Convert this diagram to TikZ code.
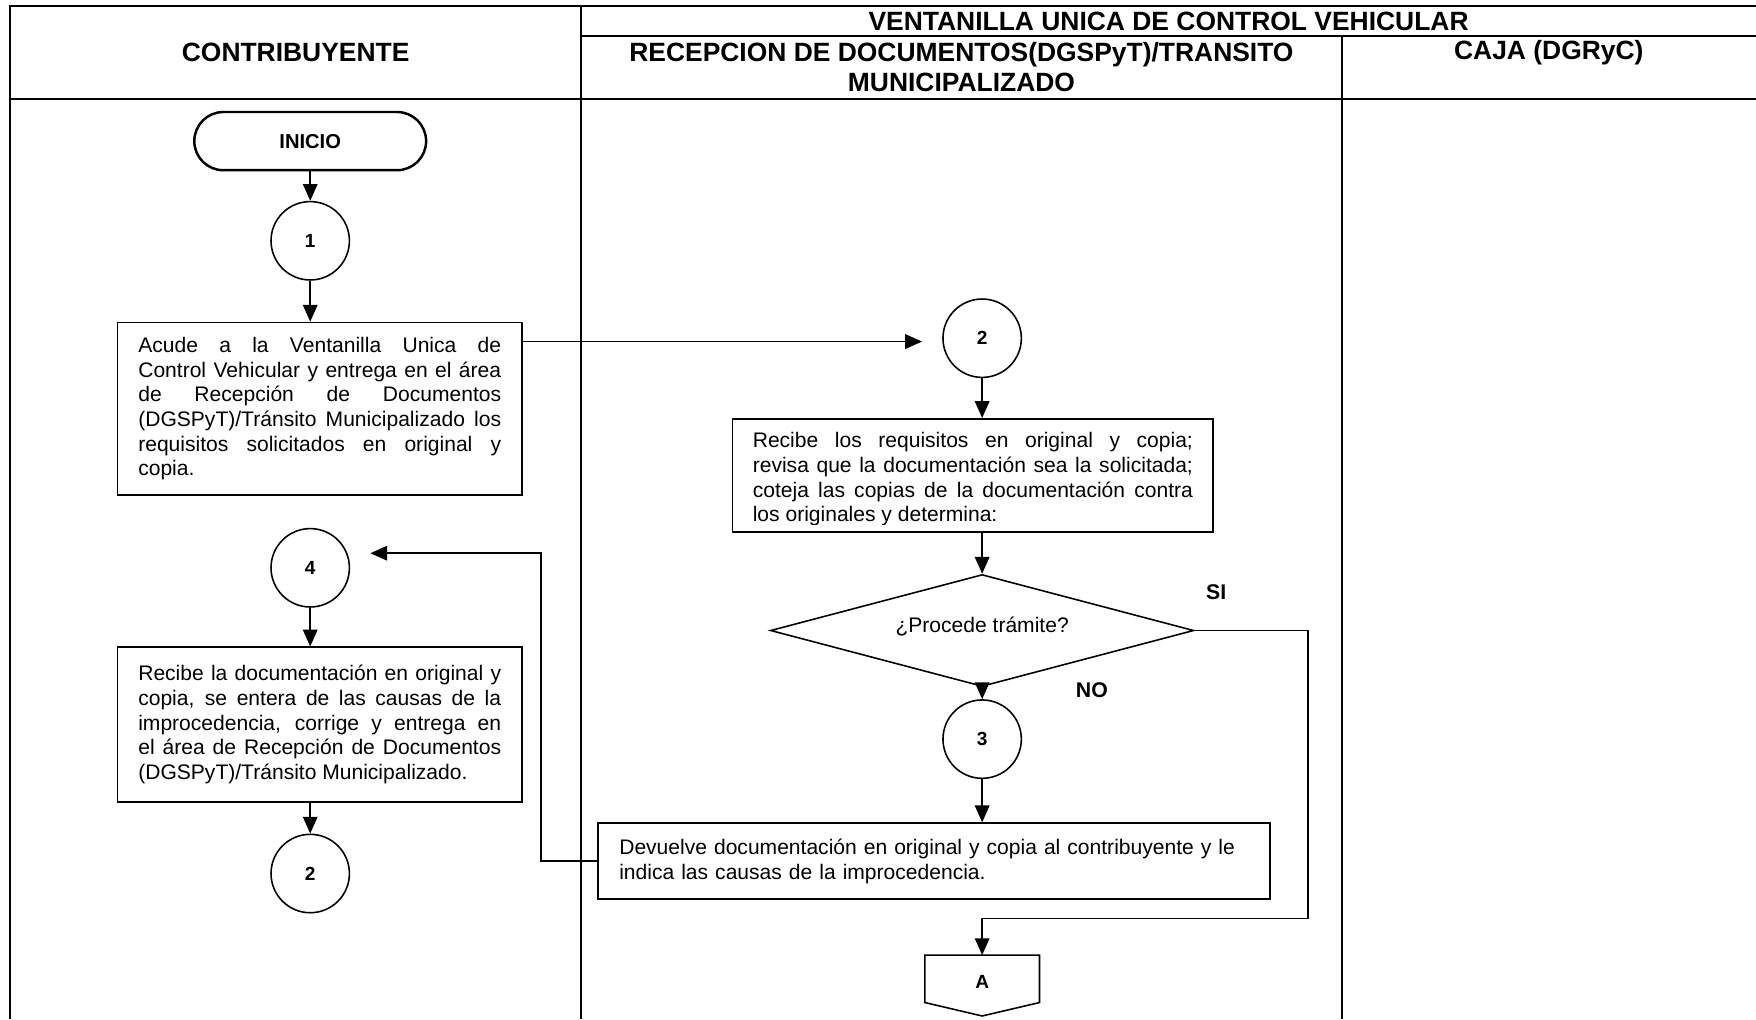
\documentclass[tikz,border=0pt]{standalone}
\usepackage{fontspec}
\setmainfont{Liberation Sans}
\usetikzlibrary{shapes.geometric,arrows.meta}
\tolerance=10000
\setlength{\parindent}{0pt}
\newcommand{\cuerpo}{\fontsize{18.8pt}{22pt}\selectfont}
\newcommand{\encab}{\fontsize{23.6pt}{27pt}\selectfont\bfseries}

\begin{document}
\begin{tikzpicture}[x=1pt,y=-1pt,
  marco/.style={line width=1.8pt},
  caja/.style={draw,line width=1.5pt,rectangle,align=justify,inner xsep=18.5pt,font=\cuerpo},
  conector/.style={draw,circle,line width=1.4pt,minimum size=70pt,inner sep=0pt,font=\fontsize{17pt}{20pt}\selectfont\bfseries},
  flecha/.style={line width=1.4pt,-{Triangle[length=15pt,width=13pt]}},
  etiqueta/.style={font=\fontsize{19pt}{22pt}\selectfont\bfseries}]
  \useasboundingbox (0,0) rectangle (1568,910);

  % Frame
  \draw[marco] (9,910) -- (9,5) -- (1568,5);
  \draw[marco] (519,910) -- (519,5);
  \draw[marco] (1198,910) -- (1198,32);
  \draw[marco] (519,32) -- (1568,32);
  \draw[marco] (9,88) -- (1568,88);

  % Headers
  \node[font=\encab] (hventanilla) at (1043.5,19) {VENTANILLA UNICA DE CONTROL VEHICULAR};
  \node[font=\encab] (hcontrib) at (264,47) {CONTRIBUYENTE};
  \node[font=\encab,align=center] (hrecep) at (858.5,60) {RECEPCION DE DOCUMENTOS(DGSPyT)/TRANSITO\\MUNICIPALIZADO};
  \node[font=\encab] (hcaja) at (1383,47) {CAJA (DGRyC)};

  % Contribuyente
  \node[draw,line width=2.2pt,rounded corners=26pt,minimum width=207pt,minimum height=52pt,
    font=\fontsize{18pt}{20pt}\selectfont\bfseries] (inicio) at (277,126) {INICIO};
  \node[conector] (c1) at (277,215) {1};
  \node[caja,text width=324pt,minimum height=154pt] (acude) at (285.5,365) {Acude a la Ventanilla Unica de\linebreak
    Control Vehicular y entrega en el área\linebreak de Recepción de Documentos\linebreak
    (DGSPyT)/Tránsito Municipalizado los\linebreak requisitos solicitados en original y\linebreak copia.};
  \node[conector] (c4) at (277,507) {4};
  \node[caja,text width=324pt,minimum height=138pt] (corrige) at (285.5,647) {Recibe la documentación en original y\linebreak
    copia, se entera de las causas de la\linebreak improcedencia, corrige y entrega en\linebreak
    el área de Recepción de Documentos\linebreak (DGSPyT)/Tránsito Municipalizado.};
  \node[conector] (c2b) at (277,780) {2};

  % Recepcion
  \node[conector] (c2) at (877,302) {2};
  \node[draw,line width=1.5pt,minimum width=429pt,minimum height=101pt] (revisa) at (868.5,424.5) {};
  \begin{scope}
    \clip (revisa.north west) rectangle (1083,468.5);
    \node[anchor=north west,inner sep=0pt,text width=393pt,align=justify,font=\cuerpo] (revisatxt) at (672,386)
      {Recibe los requisitos en original y copia;\linebreak revisa que la documentación sea la solicitada;\linebreak
       coteja las copias de la documentación contra\linebreak los originales y determina:};
  \end{scope}
  \node[draw,diamond,aspect=3.78,line width=1.4pt,minimum width=378pt,minimum height=100pt,inner sep=0pt,font=\cuerpo]
    (procede) at (877,563) {\raisebox{11pt}{¿Procede trámite?}};
  \node[etiqueta] (si) at (1086,529) {SI};
  \node[etiqueta] (no) at (975,616) {NO};
  \node[conector] (c3) at (877,660) {3};
  \node[caja,text width=562pt,inner xsep=19pt,minimum height=68pt,align=left] (devuelve) at (834,769)
    {Devuelve documentación en original y copia al contribuyente y le\\ indica las causas de la improcedencia.};
  \node[minimum width=102pt,minimum height=54pt,inner sep=0pt,font=\fontsize{17pt}{20pt}\selectfont\bfseries]
    (ca) at (877,880) {\raisebox{6pt}{A}};
  \draw[line width=1.4pt] (ca.north west) -- (ca.north east) -- ([yshift=12pt]ca.south east)
    -- (ca.south) -- ([yshift=12pt]ca.south west) -- cycle;

  % Arrows
  \draw[flecha] (inicio) -- (c1);
  \draw[flecha] (c1) -- (c1 |- acude.north);
  \draw[flecha] ([yshift=-3pt]c2.west -| acude.east) -- ([xshift=-18pt,yshift=-3pt]c2.west);
  \draw[flecha] (c2) -- (c2 |- revisa.north);
  \draw[flecha] (c2 |- revisa.south) -- (procede.north);
  \draw[flecha] (procede.south) -- (c3);
  \draw[flecha] (c3) -- (devuelve.north -| c3);
  \coordinate (vuelta) at (483,494);
  \draw[flecha] (devuelve.west) -| (vuelta) -- ([xshift=18pt]c4.east |- vuelta);
  \draw[flecha] (c4) -- (c4 |- corrige.north);
  \draw[flecha] (c4 |- corrige.south) -- (c2b);
  \coordinate (sibaja) at (1168,820);
  \draw[flecha] (procede.east) -| (sibaja) -- (sibaja -| ca.north) -- (ca.north);
\end{tikzpicture}
\end{document}
